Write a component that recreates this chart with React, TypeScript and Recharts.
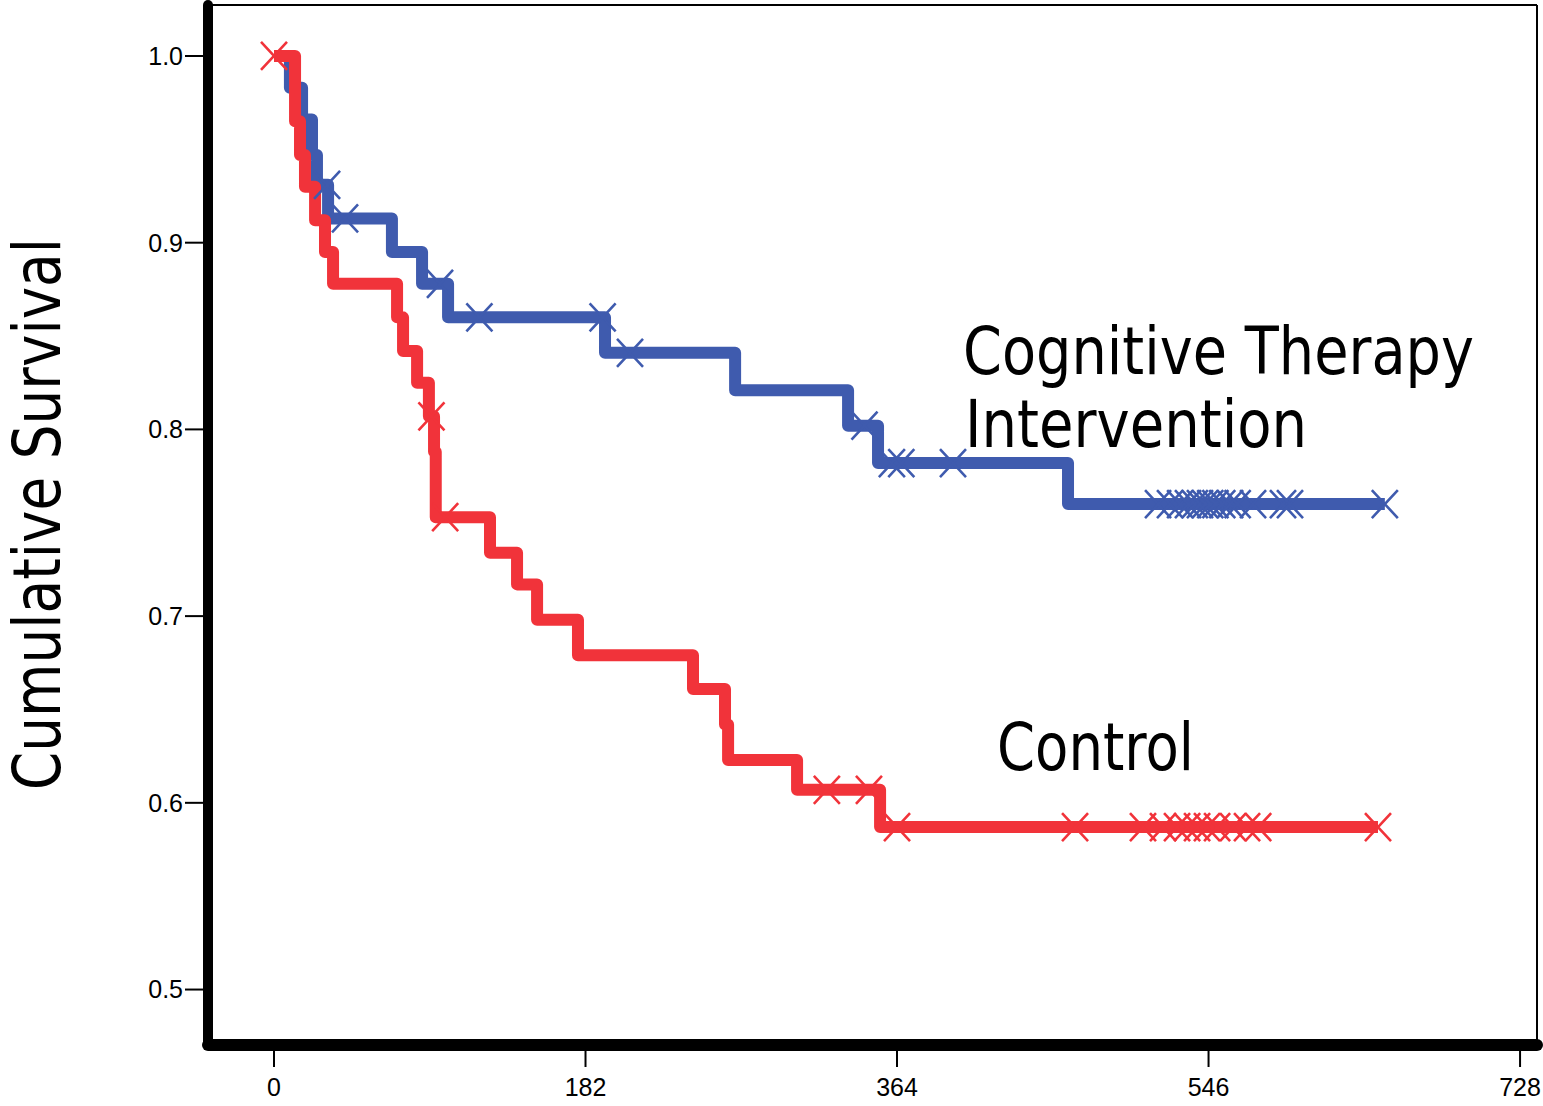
import React from 'react';
import { ComposedChart, Line, Scatter, XAxis, YAxis, ReferenceLine } from 'recharts';

// Kaplan-Meier step points (days, cumulative survival)
const BLUE_T = [0, 9.3, 16.4, 22.2, 25.1, 31.6, 68.9, 86.5, 101.7, 193.4, 269.4, 335.4, 352.9, 463.9, 649];
const BLUE_S = [1.0, 0.983, 0.966, 0.947, 0.931, 0.913, 0.895, 0.878, 0.86, 0.841, 0.821, 0.802, 0.782, 0.76, 0.76];
const BLUE_CENSOR = [31, 41.5, 97, 120, 192, 208, 345, 361, 366.5, 396.7, 516.5, 523.5, 529.4, 534, 538, 541, 544, 547, 550, 554, 558.6, 563, 572, 589.5, 593.6, 649];

const RED_T = [0, 12.3, 15.2, 18.1, 24, 29.8, 34.5, 71.9, 75.4, 83.6, 90.5, 93.5, 94.5, 126.2, 142, 153.7, 177.6, 244.8, 263.5, 265.3, 305.6, 354.1, 645];
const RED_S = [1.0, 0.965, 0.947, 0.93, 0.912, 0.895, 0.878, 0.86, 0.842, 0.825, 0.807, 0.788, 0.753, 0.734, 0.717, 0.698, 0.679, 0.661, 0.642, 0.623, 0.607, 0.587, 0.587];
const RED_CENSOR = [0, 92, 100, 323, 347.6, 364, 468, 507.7, 519.4, 527.6, 533.5, 539.3, 545.1, 551, 560.3, 568.5, 575, 645];

const X_TICKS = [0, 182, 364, 546, 728];
const Y_TICKS = [0.5, 0.6, 0.7, 0.8, 0.9, 1.0];

const X_DOMAIN: [number, number] = [-38.56, 737.9];
const Y_DOMAIN: [number, number] = [0.4703, 1.0273];

const BLUE = '#3F5BAE';
const RED = '#F1333A';

const toSeries = (ts: number[], ss: number[]) => ts.map((t, i) => ({ t, s: ss[i] }));
const survAt = (ts: number[], ss: number[], t: number) => {
  let v = ss[0];
  for (let i = 0; i < ts.length; i++) if (ts[i] <= t) v = ss[i];
  return v;
};
const toCensor = (cs: number[], ts: number[], ss: number[]) => cs.map((t) => ({ t, s: survAt(ts, ss, t) }));

const blueData = toSeries(BLUE_T, BLUE_S);
const redData = toSeries(RED_T, RED_S);
const blueCensor = toCensor(BLUE_CENSOR, BLUE_T, BLUE_S);
const redCensor = toCensor(RED_CENSOR, RED_T, RED_S);

const makeCross = (color: string) => (props: any) => {
  const { cx, cy } = props;
  if (cx == null || cy == null) return <g />;
  const w = 13;
  const h = 14;
  return (
    <path
      d={`M${cx - w},${cy - h}L${cx + w},${cy + h}M${cx - w},${cy + h}L${cx + w},${cy - h}`}
      stroke={color}
      strokeWidth={2.6}
      fill="none"
    />
  );
};

const TICK_FONT = { fontFamily: 'Liberation Sans, Arial, sans-serif', fontSize: 25, fill: '#000' };
const TITLE_FONT = 'DejaVu Sans, Verdana, sans-serif';
const LABEL_SIZE = 57;
const V_STRETCH = 66 / 57;

const Label = ({ x, y, len, rotate, children }: { x: number; y: number; len: number; rotate?: boolean; children: string }) => (
  <g transform={`translate(${x},${y})${rotate ? ' rotate(-90)' : ''} scale(1,${V_STRETCH})`}>
    <text
      x={0}
      y={0}
      textAnchor={rotate ? 'middle' : 'start'}
      fontFamily={TITLE_FONT}
      fontSize={LABEL_SIZE}
      fill="#000"
      textLength={len}
      lengthAdjust="spacingAndGlyphs"
    >
      {children}
    </text>
  </g>
);

export default function App() {
  return (
    <div style={{ position: 'absolute', left: 0, top: 0, width: 1543, height: 1106, background: '#fff' }}>
      <ComposedChart width={1543} height={1106} margin={{ top: 5, right: 6, left: 108, bottom: 11 }}>
        <XAxis
          type="number"
          dataKey="t"
          domain={X_DOMAIN}
          allowDataOverflow
          ticks={X_TICKS}
          interval={0}
          height={50}
          tickSize={22}
          tickMargin={11}
          tick={TICK_FONT}
          tickLine={{ stroke: '#000', strokeWidth: 2 }}
          axisLine={{ stroke: '#000', strokeWidth: 12, strokeLinecap: 'round' }}
        />
        <YAxis
          type="number"
          dataKey="s"
          domain={Y_DOMAIN}
          allowDataOverflow
          ticks={Y_TICKS}
          interval={0}
          width={100}
          tickSize={23}
          tickMargin={2}
          tick={TICK_FONT}
          tickFormatter={(v: number) => v.toFixed(1)}
          tickLine={{ stroke: '#000', strokeWidth: 2 }}
          axisLine={{ stroke: '#000', strokeWidth: 10, strokeLinecap: 'round' }}
        />
        <ReferenceLine y={Y_DOMAIN[1]} stroke="#000" strokeWidth={2} />
        <ReferenceLine x={X_DOMAIN[1]} stroke="#000" strokeWidth={2} />
        <Line
          data={blueData}
          dataKey="s"
          type="stepAfter"
          stroke={BLUE}
          strokeWidth={12}
          strokeLinejoin="round"
          strokeLinecap="butt"
          dot={false}
          activeDot={false}
          isAnimationActive={false}
        />
        <Scatter data={blueCensor} dataKey="s" shape={makeCross(BLUE)} isAnimationActive={false} />
        <Line
          data={redData}
          dataKey="s"
          type="stepAfter"
          stroke={RED}
          strokeWidth={12}
          strokeLinejoin="round"
          strokeLinecap="butt"
          dot={false}
          activeDot={false}
          isAnimationActive={false}
        />
        <Scatter data={redCensor} dataKey="s" shape={makeCross(RED)} isAnimationActive={false} />
        <Label x={60} y={514} len={552} rotate>Cumulative Survival</Label>
        <Label x={963} y={374} len={511}>Cognitive Therapy</Label>
        <Label x={965} y={447} len={342}>Intervention</Label>
        <Label x={997} y={770} len={197}>Control</Label>
      </ComposedChart>
    </div>
  );
}
